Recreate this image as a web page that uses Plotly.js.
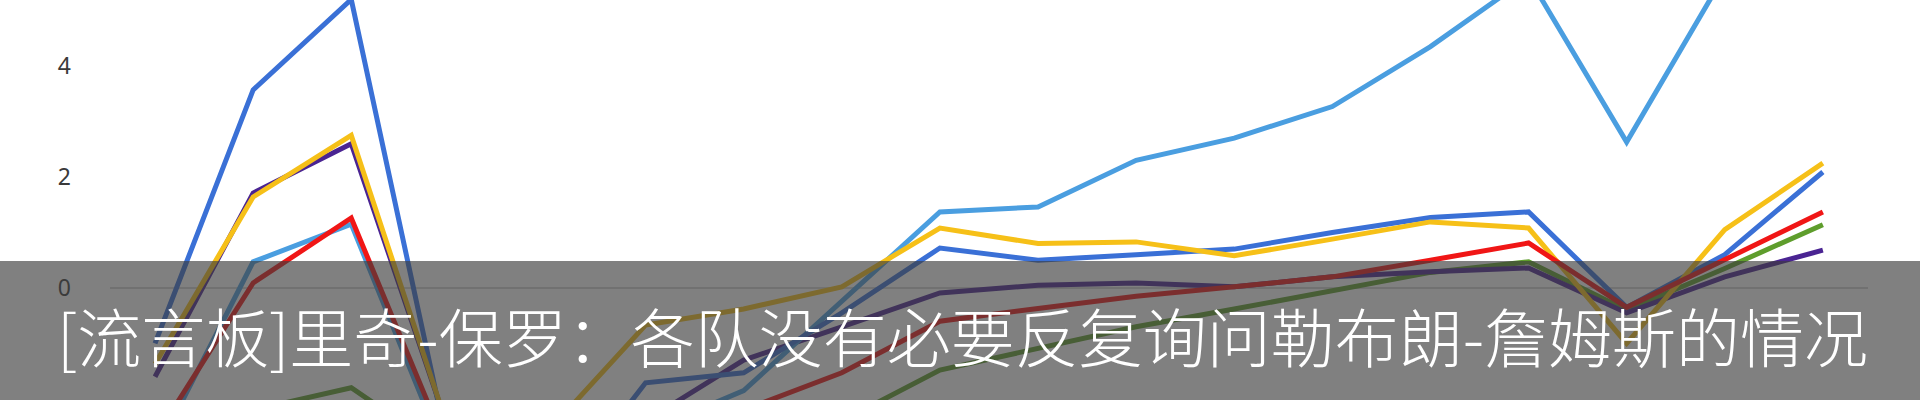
<!DOCTYPE html>
<html>
<head>
<meta charset="utf-8">
<script src="https://cdn.plot.ly/plotly-3.0.1.min.js"></script>
<style>
  html, body { margin: 0; padding: 0; background: #ffffff; }
  #chart { width: 1920px; height: 400px; }
</style>
</head>
<body>
<div id="chart"></div>
<script>
// x positions: one per season point (index along the axis)
const xIndex = [0, 1, 2, 3, 4, 5, 6, 7, 8, 9, 10, 11, 12, 13, 14, 15, 16, 17];

// series values (values below -2 / above ~5.2 are off the visible area)
const greenVals     = [-3.0, -2.2, -1.8, -3.0, -3.5, -3.5, -3.0, -2.4, -1.48, -1.08, -0.7, -0.38, -0.05, 0.28, 0.47, -0.4, 0.35, 1.14];
const purpleVals    = [-1.6, 1.71, 2.6, -2.6, -3.5, -2.4, -1.3, -0.7, -0.09, 0.05, 0.09, 0.02, 0.2, 0.29, 0.36, -0.45, 0.2, 0.68];
const lightBlueVals = [-3.0, 0.47, 1.15, -3.2, -3.5, -2.6, -1.85, -0.25, 1.37, 1.46, 2.3, 2.7, 3.27, 4.35, 5.6, 2.63, 5.65, 6.0];
const darkBlueVals  = [-1.0, 3.57, 5.2, -3.0, -4.0, -1.71, -1.53, -0.45, 0.72, 0.5, 0.6, 0.7, 1.0, 1.27, 1.37, -0.35, 0.6, 2.09];
const yellowVals    = [-1.37, 1.64, 2.75, -2.6, -2.6, -0.67, -0.38, 0.02, 1.08, 0.8, 0.83, 0.58, 0.88, 1.19, 1.08, -1.0, 1.05, 2.25];
const redVals       = [-2.7, 0.09, 1.26, -3.0, -3.2, -2.7, -2.2, -1.53, -0.6, -0.37, -0.15, 0.02, 0.2, 0.5, 0.81, -0.35, 0.5, 1.37];

const yTickVals = [-2, 0, 2, 4];
const yTickText = ['-2', '0', '2', '4'];

const captionText = '[流言板]里奇-保罗：各队没有必要反复询问勒布朗-詹姆斯的情况';

const seriesList = [
  { name: 'green',     y: greenVals,     color: '#5e9d2c' },
  { name: 'purple',    y: purpleVals,    color: '#4a2492' },
  { name: 'lightblue', y: lightBlueVals, color: '#4a9ee0' },
  { name: 'darkblue',  y: darkBlueVals,  color: '#3a70d6' },
  { name: 'yellow',    y: yellowVals,    color: '#f6c018' },
  { name: 'red',       y: redVals,       color: '#f01616' }
];

const traces = seriesList.map(s => ({
  type: 'scatter',
  mode: 'lines',
  name: s.name,
  x: xIndex,
  y: s.y,
  line: { color: s.color, width: 5, shape: 'linear' },
  hoverinfo: 'skip'
}));

const layout = {
  width: 1920,
  height: 400,
  margin: { l: 110, r: 52, t: 0, b: 0, pad: 0 },
  paper_bgcolor: '#ffffff',
  plot_bgcolor: '#ffffff',
  showlegend: false,
  xaxis: {
    range: [-0.459, 17.46],
    visible: false,
    showgrid: false,
    zeroline: false,
    fixedrange: true
  },
  yaxis: {
    range: [-2.02, 5.19],
    showgrid: false,
    zeroline: true,
    zerolinecolor: '#d4d4d4',
    zerolinewidth: 1.5,
    showline: false,
    ticks: '',
    tickvals: yTickVals,
    ticktext: yTickText,
    ticklabelstandoff: 38,
    tickfont: { family: 'Noto Sans, Open Sans, sans-serif', size: 23, color: '#3a3a3a' },
    fixedrange: true
  },
  shapes: [{
    type: 'rect',
    xref: 'paper', yref: 'paper',
    x0: -0.07, x1: 1.04,
    y0: -0.01, y1: 0.3475,
    fillcolor: 'rgba(60,60,60,0.65)',
    line: { width: 0 },
    layer: 'above'
  }],
  annotations: [{
    xref: 'paper', yref: 'paper',
    x: -0.0312, y: 0.165,
    xanchor: 'left', yanchor: 'middle',
    showarrow: false,
    text: captionText,
    font: { family: 'Noto Sans CJK SC, sans-serif', size: 64, weight: 300, color: '#ffffff' }
  }]
};

Plotly.newPlot('chart', traces, layout, { displayModeBar: false, staticPlot: true });
</script>
</body>
</html>
